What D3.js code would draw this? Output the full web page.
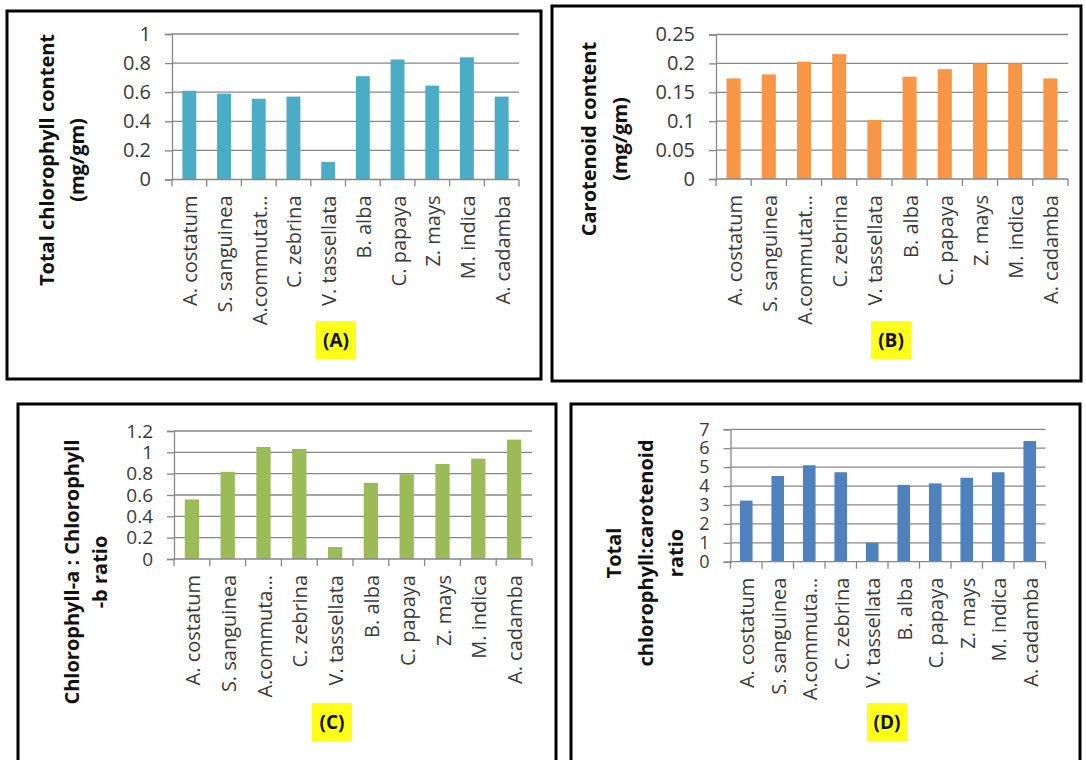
<!DOCTYPE html>
<html>
<head>
<meta charset="utf-8">
<script src="https://cdn.jsdelivr.net/npm/d3@7"></script>
<style>
  body { margin: 0; background: #fff; }
  svg text { font-family: "Open Sans", sans-serif; }
</style>
</head>
<body>
<svg id="chart" width="1086" height="760"></svg>
<script>
// species on the x axis (Excel cut the long name differently in the two rows)
const speciesTop = ['A. costatum', 'S. sanguinea', 'A.commutat…', 'C. zebrina', 'V. tassellata',
  'B. alba', 'C. papaya', 'Z. mays', 'M. indica', 'A. cadamba'];
const speciesBottom = ['A. costatum', 'S. sanguinea', 'A.commuta…', 'C. zebrina', 'V. tassellata',
  'B. alba', 'C. papaya', 'Z. mays', 'M. indica', 'A. cadamba'];

// values
const totalChlorophyll = [0.61, 0.59, 0.555, 0.57, 0.12, 0.71, 0.825, 0.645, 0.84, 0.57];
const carotenoid = [0.174, 0.181, 0.203, 0.216, 0.102, 0.177, 0.19, 0.2, 0.2, 0.174];
const chlAbRatio = [0.558, 0.817, 1.05, 1.032, 0.112, 0.714, 0.795, 0.891, 0.941, 1.119];
const chlCarRatio = [3.23, 4.53, 5.1, 4.73, 1.0, 4.06, 4.14, 4.44, 4.73, 6.38];

// y tick values
const ticksA = [0, 0.2, 0.4, 0.6, 0.8, 1];
const ticksB = [0, 0.05, 0.1, 0.15, 0.2, 0.25];
const ticksC = [0, 0.2, 0.4, 0.6, 0.8, 1, 1.2];
const ticksD = [0, 1, 2, 3, 4, 5, 6, 7];

const panels = [
  {
    tag: '(A)', cats: speciesTop, values: totalChlorophyll, ticks: ticksA, color: '#4BACC6',
    title: ['Total chlorophyll content', '(mg/gm)'], tickFont: 20,
    frame: [7, 11, 534, 368], plot: [172, 519, 34, 179.5], titleX: [47, 77], titleY: 160, tagPos: [336, 340]
  },
  {
    tag: '(B)', cats: speciesTop, values: carotenoid, ticks: ticksB, color: '#F79646',
    title: ['Carotenoid content', '(mg/gm)'], tickFont: 20,
    frame: [552, 6, 529, 375], plot: [716, 1068, 34.5, 179], titleX: [589, 620], titleY: 139, tagPos: [891, 340]
  },
  {
    tag: '(C)', cats: speciesBottom, values: chlAbRatio, ticks: ticksC, color: '#9BBB59',
    title: ['Chlorophyll-a : Chlorophyll', '-b ratio'], tickFont: 19,
    frame: [18, 404, 538, 380], plot: [174, 532, 431, 559], titleX: [72, 100], titleY: 572, tagPos: [332, 722]
  },
  {
    tag: '(D)', cats: speciesBottom, values: chlCarRatio, ticks: ticksD, color: '#4F81BD',
    title: ['Total', 'chlorophyll:carotenoid', 'ratio'], tickFont: 18,
    frame: [571, 404, 509, 380], plot: [730.5, 1045.5, 429.3, 561.7], titleX: [614, 646, 676], titleY: 553, tagPos: [887, 722]
  }
];

const svg = d3.select('#chart');
const gridColor = '#878787';

panels.forEach(p => {
  const g = svg.append('g');
  const [x0, x1, yTop, yBot] = p.plot;

  // panel frame
  g.append('rect')
    .attr('x', p.frame[0]).attr('y', p.frame[1])
    .attr('width', p.frame[2]).attr('height', p.frame[3])
    .attr('fill', 'none').attr('stroke', '#000').attr('stroke-width', 3);

  const x = d3.scaleBand()
    .domain(p.cats)
    .range([x0, x1])
    .paddingInner(0.6)
    .paddingOuter(0.3);

  const y = d3.scaleLinear()
    .domain([0, d3.max(p.ticks)])
    .range([yBot, yTop]);

  // gridlines
  g.append('g')
    .selectAll('line')
    .data(p.ticks.filter(t => t > 0))
    .join('line')
    .attr('x1', x0).attr('x2', x1)
    .attr('y1', d => y(d)).attr('y2', d => y(d))
    .attr('stroke', gridColor).attr('stroke-width', 1.3);

  // bars
  g.append('g')
    .selectAll('rect')
    .data(p.values)
    .join('rect')
    .attr('x', (d, i) => x(p.cats[i]))
    .attr('y', d => y(d))
    .attr('width', x.bandwidth())
    .attr('height', d => y(0) - y(d))
    .attr('fill', p.color);

  // y axis
  const yAxis = g.append('g')
    .attr('transform', `translate(${x0},0)`)
    .call(d3.axisLeft(y).tickValues(p.ticks).tickFormat(d => d).tickSize(7).tickPadding(14));
  yAxis.select('.domain').attr('stroke', gridColor).attr('stroke-width', 1.3);
  yAxis.selectAll('.tick line').attr('stroke', gridColor).attr('stroke-width', 1.3);
  yAxis.selectAll('.tick text')
    .attr('fill', '#3a3a3a')
    .style('font-size', p.tickFont + 'px');

  // x axis line with tick marks at category boundaries
  const step = x.step();
  g.append('line')
    .attr('x1', x0).attr('x2', x1)
    .attr('y1', y(0)).attr('y2', y(0))
    .attr('stroke', gridColor).attr('stroke-width', 1.3);
  g.append('g')
    .selectAll('line')
    .data(d3.range(p.cats.length + 1))
    .join('line')
    .attr('x1', i => x0 + i * step).attr('x2', i => x0 + i * step)
    .attr('y1', y(0)).attr('y2', y(0) + 7)
    .attr('stroke', gridColor).attr('stroke-width', 1.3);

  // category labels, rotated
  const xAxis = g.append('g')
    .attr('transform', `translate(0,${y(0)})`)
    .call(d3.axisBottom(x).tickSize(0).tickPadding(0));
  xAxis.select('.domain').remove();
  xAxis.selectAll('.tick text')
    .attr('transform', 'rotate(-90)')
    .attr('text-anchor', 'end')
    .attr('x', -16)
    .attr('y', 0)
    .attr('dy', '0.4em')
    .attr('fill', '#3a3a3a')
    .style('font-size', '20px');

  // y title, one rotated line each
  p.title.forEach((line, i) => {
    g.append('text')
      .attr('transform', `translate(${p.titleX[i]},${p.titleY}) rotate(-90)`)
      .attr('text-anchor', 'middle')
      .attr('dy', '0.35em')
      .style('font-size', '20px')
      .style('font-weight', 'bold')
      .attr('fill', '#111')
      .text(line);
  });

  // highlighted panel tag
  g.append('rect')
    .attr('x', p.tagPos[0] - 20).attr('y', p.tagPos[1] - 19)
    .attr('width', 40).attr('height', 38)
    .attr('fill', '#FFFF1A');
  g.append('text')
    .attr('x', p.tagPos[0]).attr('y', p.tagPos[1])
    .attr('text-anchor', 'middle')
    .attr('dy', '0.35em')
    .style('font-size', '19px')
    .style('font-weight', 'bold')
    .attr('fill', '#111')
    .text(p.tag);
});
</script>
</body>
</html>
